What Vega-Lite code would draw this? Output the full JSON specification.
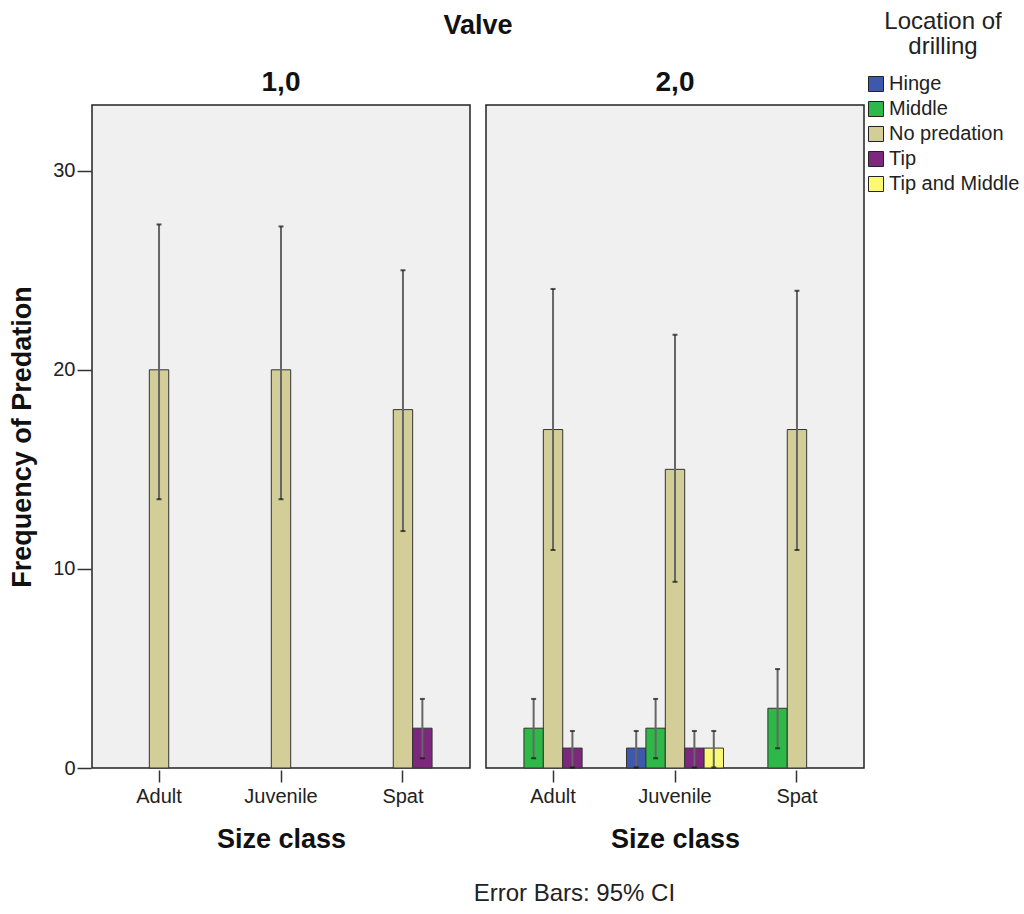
{
  "$schema": "https://vega.github.io/schema/vega-lite/v6.json",
  "padding": {"left": 8, "top": 10, "right": 5, "bottom": 5},
  "background": "white",
  "title": {
    "text": "Error Bars: 95% CI",
    "orient": "bottom",
    "anchor": "middle",
    "fontSize": 24,
    "fontWeight": "normal",
    "font": "Liberation Sans",
    "color": "#222",
    "offset": 30,
    "dx": 60
  },
  "data": {
    "values": [
      {"valve": "1,0", "size": "Adult", "loc": "No predation", "freq": 20, "lo": 13.5, "hi": 27.3},
      {"valve": "1,0", "size": "Juvenile", "loc": "No predation", "freq": 20, "lo": 13.5, "hi": 27.2},
      {"valve": "1,0", "size": "Spat", "loc": "No predation", "freq": 18, "lo": 11.9, "hi": 25.0},
      {"valve": "1,0", "size": "Spat", "loc": "Tip", "freq": 2, "lo": 0.49, "hi": 3.47},
      {"valve": "2,0", "size": "Adult", "loc": "Middle", "freq": 2, "lo": 0.49, "hi": 3.47},
      {"valve": "2,0", "size": "Adult", "loc": "No predation", "freq": 17, "lo": 10.95, "hi": 24.06},
      {"valve": "2,0", "size": "Adult", "loc": "Tip", "freq": 1, "lo": 0.03, "hi": 1.86},
      {"valve": "2,0", "size": "Juvenile", "loc": "Hinge", "freq": 1, "lo": 0.03, "hi": 1.86},
      {"valve": "2,0", "size": "Juvenile", "loc": "Middle", "freq": 2, "lo": 0.49, "hi": 3.47},
      {"valve": "2,0", "size": "Juvenile", "loc": "No predation", "freq": 15, "lo": 9.35, "hi": 21.76},
      {"valve": "2,0", "size": "Juvenile", "loc": "Tip", "freq": 1, "lo": 0.03, "hi": 1.86},
      {"valve": "2,0", "size": "Juvenile", "loc": "Tip and Middle", "freq": 1, "lo": 0.03, "hi": 1.86},
      {"valve": "2,0", "size": "Spat", "loc": "Middle", "freq": 3, "lo": 0.99, "hi": 4.97},
      {"valve": "2,0", "size": "Spat", "loc": "No predation", "freq": 17, "lo": 10.95, "hi": 23.97}
    ]
  },
  "facet": {
    "column": {
      "field": "valve",
      "type": "nominal",
      "title": "Valve",
      "header": {
        "titleFontSize": 27,
        "titleFontWeight": "bold",
        "titleFont": "Liberation Sans",
        "titleColor": "#111",
        "titlePadding": 19,
        "labelFontSize": 28,
        "labelFontWeight": "bold",
        "labelFont": "Liberation Sans",
        "labelColor": "#111",
        "labelPadding": 7
      }
    }
  },
  "spacing": 14,
  "spec": {
    "width": 378,
    "height": 663,
    "encoding": {
      "x": {
        "field": "size",
        "type": "nominal",
        "title": "Size class",
        "scale": {"domain": ["Adult", "Juvenile", "Spat"], "paddingInner": 0.205, "paddingOuter": 0.152},
        "axis": {"labelAngle": 0}
      },
      "xOffset": {
        "field": "loc",
        "type": "nominal",
        "scale": {"domain": ["Hinge", "Middle", "No predation", "Tip", "Tip and Middle"], "paddingInner": 0, "paddingOuter": 0}
      }
    },
    "layer": [
      {
        "mark": {"type": "bar", "stroke": "#333", "strokeWidth": 1},
        "encoding": {
          "y": {
            "field": "freq",
            "type": "quantitative",
            "title": "Frequency of Predation",
            "scale": {"domain": [0, 33.3], "nice": false},
            "axis": {"values": [0, 10, 20, 30]}
          },
          "color": {
            "field": "loc",
            "type": "nominal",
            "title": ["Location of", "drilling"],
            "scale": {
              "domain": ["Hinge", "Middle", "No predation", "Tip", "Tip and Middle"],
              "range": ["#3e58ac", "#2eb848", "#d3ce97", "#7c287d", "#fbf873"]
            },
            "legend": {"orient": "none", "legendX": 774, "legendY": -95}
          }
        }
      },
      {
        "mark": {"type": "rule", "color": "#666", "strokeWidth": 2},
        "encoding": {
          "y": {"field": "lo", "type": "quantitative"},
          "y2": {"field": "hi"}
        }
      },
      {
        "mark": {"type": "tick", "color": "#111", "size": 5, "thickness": 2, "orient": "horizontal"},
        "encoding": {"y": {"field": "hi", "type": "quantitative"}}
      },
      {
        "mark": {"type": "tick", "color": "#111", "size": 5, "thickness": 2, "orient": "horizontal"},
        "encoding": {"y": {"field": "lo", "type": "quantitative"}}
      }
    ]
  },
  "config": {
    "font": "Liberation Sans",
    "view": {"fill": "#f0f0f0", "stroke": "#222", "strokeWidth": 1.5},
    "axis": {
      "grid": false,
      "domain": false,
      "tickColor": "#333",
      "tickSize": 12,
      "tickWidth": 1.5,
      "labelFontSize": 20,
      "labelColor": "#222",
      "labelFont": "Liberation Sans",
      "titleFontSize": 27,
      "titleFontWeight": "bold",
      "titleColor": "#111",
      "titleFont": "Liberation Sans"
    },
    "axisX": {"labelPadding": 4, "titlePadding": 20},
    "axisY": {"labelPadding": 2, "titlePadding": 16, "tickSize": 14},
    "legend": {
      "symbolType": "square",
      "symbolSize": 225,
      "symbolStrokeColor": "#222",
      "symbolStrokeWidth": 1,
      "symbolOpacity": 1,
      "labelFontSize": 20,
      "labelFont": "Liberation Sans",
      "labelColor": "#222",
      "titleFontSize": 24,
      "titleFontWeight": "normal",
      "titleFont": "Liberation Sans",
      "titleColor": "#222",
      "titleAnchor": "middle",
      "titleAlign": "center",
      "titleLineHeight": 25,
      "titlePadding": 15,
      "rowPadding": 5,
      "labelOffset": 3
    }
  }
}
